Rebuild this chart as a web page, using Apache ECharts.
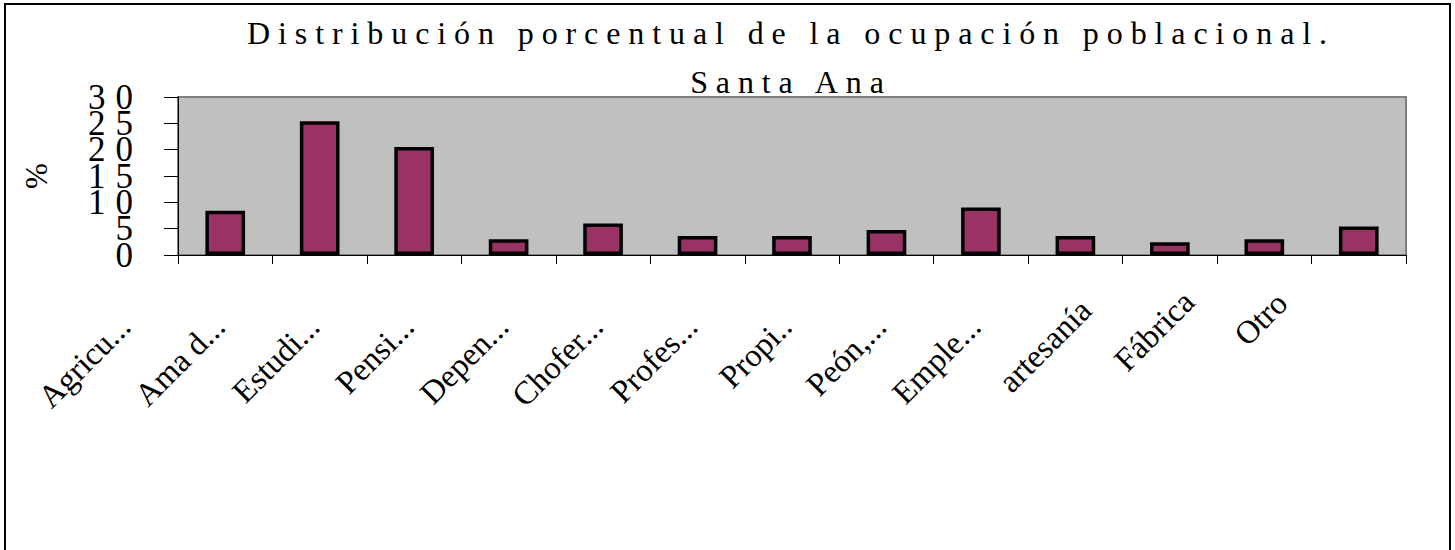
<!DOCTYPE html>
<html><head><meta charset="utf-8">
<script src="https://cdn.jsdelivr.net/npm/echarts@6/dist/echarts.min.js"></script>
<style>
html,body{margin:0;padding:0;background:#fff;}
#chart{width:1455px;height:550px;}
#chart text[style*="32px"]{letter-spacing:7.9px;}
#chart text[style*="35px"]{letter-spacing:10px;}
</style></head><body><div id="chart"></div>
<script>
// ---- data ----
const categories = ['Agricu...', 'Ama d...', 'Estudi...', 'Pensi...', 'Depen...', 'Chofer...', 'Profes...', 'Propi..', 'Peón,...', 'Emple...', 'artesanía', 'Fábrica', 'Otro'];
const values = [8.4, 25.4, 20.5, 3.0, 6.0, 3.6, 3.6, 4.75, 9.0, 3.6, 2.4, 3.0, 5.4];
const titleLines = ['Distribución porcentual de la ocupación poblacional.', 'Santa Ana'];
const yAxisName = '%';
const yMin = 0, yMax = 30, yStep = 5;

// ---- style ----
const FONT = 'Liberation Serif';
const labelShift = {'artesanía': 23, 'Fábrica': 35, 'Otro': 33};
const labelData = categories.map(c => labelShift[c]
  ? {value: c, textStyle: {padding: [0, -labelShift[c], 0, 0]}}
  : c);
// y labels are split over two overlaid axes so that the (overlapping, as in the
// reference) tick labels are not auto-hidden by ECharts
const evenLabel = v => (Math.round(v / yStep) % 2 === 0 ? String(v) : '');
const oddLabel = v => (Math.round(v / yStep) % 2 === 1 ? String(v) : '');
const yLabelStyle = {margin: 35, fontFamily: FONT, fontSize: 35, color: '#000'};

const chart = echarts.init(document.getElementById('chart'), null, {renderer: 'svg'});
chart.setOption({
  backgroundColor: '#ffffff',
  animation: false,
  title: {
    text: titleLines.join('\n'),
    left: 786, top: 3, textAlign: 'center',
    textStyle: {fontFamily: FONT, fontSize: 32, fontWeight: 'normal', color: '#000', lineHeight: 49}
  },
  graphic: [{
    type: 'rect', silent: true, z: 100,
    shape: {x: 5, y: 4, width: 1445, height: 700},
    style: {fill: 'none', stroke: '#000', lineWidth: 2}
  }],
  grid: [
    {left: 178, right: 49, top: 97, height: 158, show: true, backgroundColor: '#C0C0C0',
     borderColor: '#808080', borderWidth: 2, outerBoundsMode: 'none', containLabel: false},
    {left: 77.6, right: 149.4, top: 97, height: 158, show: false, outerBoundsMode: 'none', containLabel: false}
  ],
  xAxis: [
    {type: 'category', gridIndex: 0, data: categories,
     axisLine: {show: true, lineStyle: {color: '#000', width: 1}},
     axisTick: {show: true, length: 9, lineStyle: {color: '#000', width: 1}},
     axisLabel: {show: false}, splitLine: {show: false}},
    {type: 'category', gridIndex: 1, data: labelData,
     axisLine: {show: false}, axisTick: {show: false}, splitLine: {show: false},
     axisLabel: {show: true, interval: 0, rotate: 45, margin: 66,
       fontFamily: FONT, fontSize: 32.5, color: '#000'}}
  ],
  yAxis: [
    {type: 'value', gridIndex: 0, position: 'left', min: yMin, max: yMax, interval: yStep,
     name: yAxisName, nameLocation: 'middle', nameRotate: 90, nameGap: 126,
     nameTextStyle: {fontFamily: FONT, fontSize: 31, color: '#000'},
     axisLine: {show: true, lineStyle: {color: '#000', width: 1}},
     axisTick: {show: true, inside: false, length: 14, lineStyle: {color: '#000', width: 1}},
     axisLabel: Object.assign({show: true, formatter: evenLabel, showMinLabel: true, showMaxLabel: true}, yLabelStyle),
     splitLine: {show: false}},
    {type: 'value', gridIndex: 1, min: yMin, max: yMax, show: false},
    {type: 'value', gridIndex: 0, position: 'left', offset: 0, min: yMin, max: yMax, interval: yStep,
     axisLine: {show: false}, axisTick: {show: false}, splitLine: {show: false},
     axisLabel: Object.assign({show: true, formatter: oddLabel, showMinLabel: false, showMaxLabel: false}, yLabelStyle)}
  ],
  series: [{
    type: 'bar', xAxisIndex: 0, yAxisIndex: 0, data: values,
    barWidth: '42%',
    itemStyle: {color: '#993366', borderColor: '#000', borderWidth: 3.5}
  }]
});
</script></body></html>
